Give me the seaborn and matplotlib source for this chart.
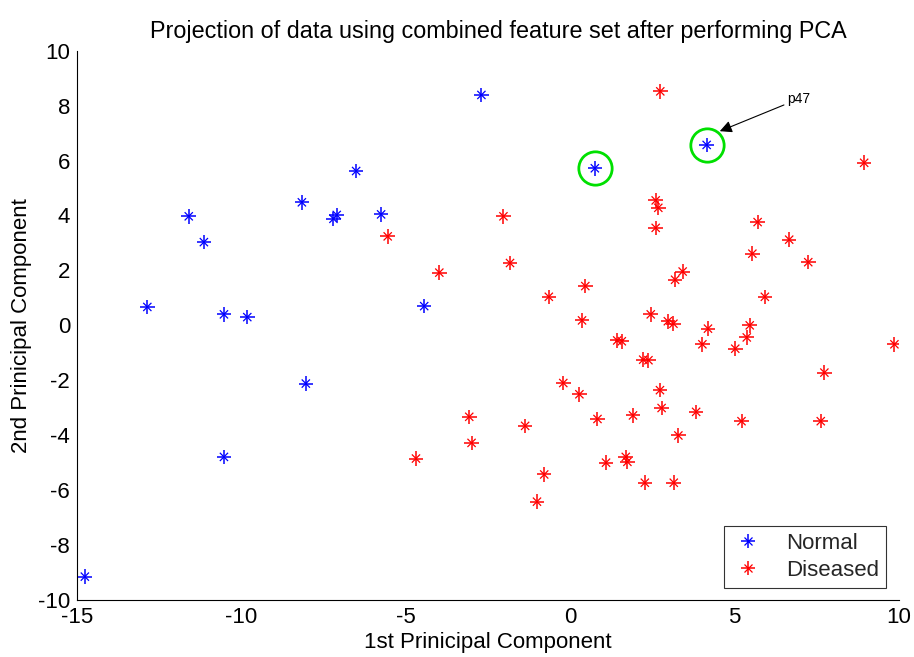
import matplotlib
matplotlib.use("Agg")
import matplotlib.pyplot as plt
import seaborn as sns
import pandas as pd
from matplotlib.lines import Line2D

normal_x = [-14.76, -12.86, -11.60, -11.14, -10.53, -10.53, -9.82, -8.16, -8.04,
            -7.20, -7.10, -6.51, -5.75, -4.44, -2.70, 0.75, 4.15]
normal_y = [-9.15, 0.67, 3.97, 3.03, 0.40, -4.79, 0.30, 4.48, -2.12,
            3.88, 4.02, 5.62, 4.04, 0.70, 8.39, 5.72, 6.57]

diseased_x = [-5.55, -3.98, -2.03, -1.83, -3.07, -3.00, -4.69, 2.74, 8.94, 2.60,
              2.68, 2.60, 5.70, 6.66, 5.54, 7.24, 3.42, 3.19, 0.46, -0.65,
              5.92, 0.36, 2.45, 2.97, 3.14, 4.19, 5.46, 5.37, 1.43, 1.57,
              4.02, 5.02, 9.86, 2.22, 2.38, 7.73, -0.21, 0.28, 2.73, 2.78,
              3.83, 5.21, 7.62, 0.83, 1.91, -1.37, 3.29, 1.69, 1.74, 1.09,
              -0.79, 2.27, 3.15, -1.01]
diseased_y = [3.24, 1.92, 3.97, 2.27, -3.33, -4.28, -4.85, 8.52, 5.92, 4.55,
              4.28, 3.55, 3.76, 3.12, 2.61, 2.30, 1.96, 1.66, 1.43, 1.04,
              1.04, 0.18, 0.40, 0.15, 0.06, -0.12, 0.00, -0.44, -0.55, -0.58,
              -0.69, -0.85, -0.69, -1.25, -1.27, -1.72, -2.10, -2.51, -2.36, -3.01,
              -3.15, -3.49, -3.49, -3.41, -3.28, -3.66, -4.01, -4.79, -4.97, -5.00,
              -5.43, -5.73, -5.73, -6.42]

circled_x = [0.75, 4.15]
circled_y = [5.72, 6.57]
annot_label = "p47"
x_ticks = [-15, -10, -5, 0, 5, 10]
y_ticks = [-10, -8, -6, -4, -2, 0, 2, 4, 6, 8, 10]

df = pd.DataFrame({
    "pc1": normal_x + diseased_x,
    "pc2": normal_y + diseased_y,
    "group": ["Normal"] * len(normal_x) + ["Diseased"] * len(diseased_x),
})
palette = {"Normal": "#0000ff", "Diseased": "#ff0000"}

sns.set_style("white")
plt.rcParams["font.family"] = ["Liberation Sans", "DejaVu Sans"]
plt.rcParams["axes.unicode_minus"] = False

fig = plt.figure(figsize=(9.14, 6.57), dpi=100)
ax = fig.add_axes([0.0842, 0.0868, 0.8994, 0.836])

# MATLAB-style '*' marker: a plus with shorter diagonals
sns.scatterplot(data=df, x="pc1", y="pc2", hue="group", palette=palette,
                marker="+", s=110, linewidth=1.1, ax=ax, legend=False, zorder=3)
sns.scatterplot(data=df, x="pc1", y="pc2", hue="group", palette=palette,
                marker="x", s=35, linewidth=0.9, ax=ax, legend=False, zorder=3)

ax.plot(circled_x, circled_y, linestyle="none", marker="o", markersize=24,
        markerfacecolor="none", markeredgecolor="#00e000", markeredgewidth=2.0, zorder=4)

ax.annotate(annot_label, xy=(circled_x[1] + 0.4, circled_y[1] + 0.5),
            xytext=(6.6, 8.1), fontsize=10, color="black",
            arrowprops=dict(arrowstyle="-|>", color="black", lw=0.8,
                            mutation_scale=18, shrinkA=0, shrinkB=0))

ax.set_xlim(-15, 10)
ax.set_ylim(-10, 10)
ax.set_xticks(x_ticks)
ax.set_yticks(y_ticks)
ax.tick_params(direction="in", length=6, width=0.8, labelsize=16, colors="black", pad=5)
for side in ["top", "right"]:
    ax.spines[side].set_visible(False)
for side in ["left", "bottom"]:
    ax.spines[side].set_color("black")
    ax.spines[side].set_linewidth(0.8)

ax.set_xlabel("1st Prinicipal Component", fontsize=16, color="black", labelpad=3)
ax.set_ylabel("2nd Prinicipal Component", fontsize=16, color="black", labelpad=4)
ax.set_title("Projection of data using combined feature set after performing PCA",
             fontsize=16.8, color="black", pad=9, x=0.513)

def star_handle(c):
    return (Line2D([], [], linestyle="none", marker="+", markersize=10,
                   markeredgecolor=c, markeredgewidth=1.1),
            Line2D([], [], linestyle="none", marker="x", markersize=6,
                   markeredgecolor=c, markeredgewidth=0.9))

leg = ax.legend([star_handle("#0000ff"), star_handle("#ff0000")], ["Normal", "Diseased"],
                loc="lower right", bbox_to_anchor=(0.984, 0.022), fontsize=16,
                frameon=True, fancybox=False, edgecolor="black", handletextpad=0.9,
                borderpad=0.3, labelspacing=0.3, handlelength=1.6, borderaxespad=0)
leg.get_frame().set_linewidth(0.8)

fig.savefig("out.png", dpi=100)
